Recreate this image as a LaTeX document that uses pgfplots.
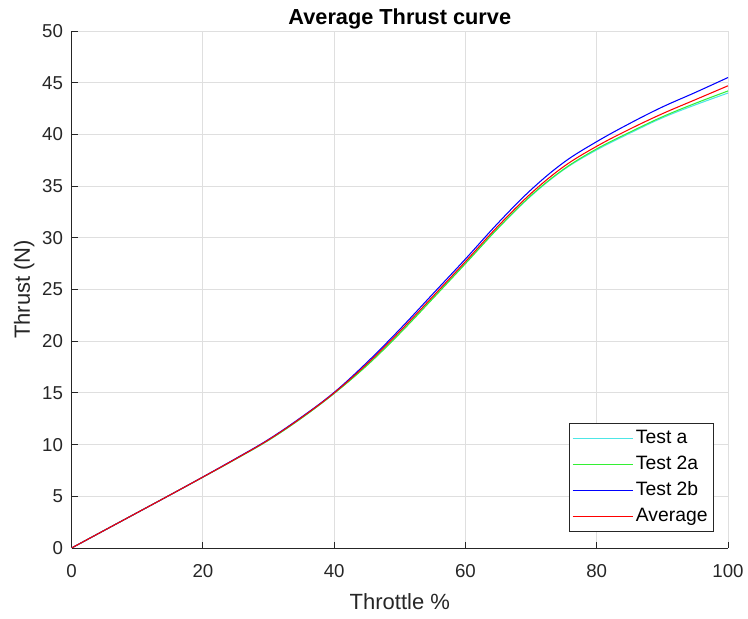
\documentclass[border=0pt]{standalone}
\usepackage{pgfplots}
\pgfplotsset{compat=1.18}
\usepackage{fontspec}
\setmainfont{Liberation Sans}
\definecolor{axc}{HTML}{262626}
\definecolor{gridc}{HTML}{DFDFDF}
\definecolor{ccyan}{HTML}{4DE6E6}
\definecolor{cgreen}{HTML}{33F033}
\pgfplotstableread{
x y
0 0
5 1.71
10 3.42
15 5.13
20 6.85
25 8.6
30 10.42
35 12.55
40 14.95
45 17.7
50 20.8
55 24.15
60 27.55
65 30.95
70 34.05
75 36.6
80 38.5
85 40.1
90 41.6
95 42.85
100 44.0
}\testa
\pgfplotstableread{
x y
0 0
5 1.71
10 3.42
15 5.13
20 6.85
25 8.6
30 10.42
35 12.55
40 14.95
45 17.65
50 20.75
55 24.1
60 27.5
65 30.95
70 34.1
75 36.65
80 38.6
85 40.2
90 41.7
95 43.0
100 44.2
}\testtwoa
\pgfplotstableread{
x y
0 0
5 1.71
10 3.42
15 5.13
20 6.87
25 8.65
30 10.5
35 12.65
40 15.05
45 17.95
50 21.15
55 24.55
60 27.95
65 31.45
70 34.65
75 37.3
80 39.3
85 41.05
90 42.65
95 44.05
100 45.5
}\testtwob
\pgfplotstableread{
x y
0 0
5 1.71
10 3.42
15 5.13
20 6.86
25 8.62
30 10.46
35 12.6
40 15.0
45 17.8
50 20.95
55 24.3
60 27.7
65 31.15
70 34.3
75 36.9
80 38.85
85 40.5
90 42.0
95 43.35
100 44.7
}\avg
\begin{document}
\begin{tikzpicture}
\begin{axis}[
  scale only axis,
  width=492.3pt, height=387.75pt,
  xmin=0, xmax=100, ymin=0, ymax=50,
  xtick={0,20,...,100}, ytick={0,5,...,50},
  axis lines=left,
  axis line style={-, draw=axc, line width=0.6pt},
  tick style={draw=axc, line width=0.6pt},
  tick align=inside,
  major tick length=4.5pt,
  grid=major,
  major grid style={draw=gridc, line width=0.6pt},
  tick label style={font=\fontsize{14}{16}\selectfont, text=axc},
  xticklabel style={yshift=-9pt},
  yticklabel style={xshift=-3pt},
  /pgf/number format/assume math mode=true,
  xlabel={Throttle \%}, ylabel={Thrust (N)},
  label style={font=\fontsize{16.5}{18}\selectfont, text=axc},
  xlabel style={at={([yshift=-40.2pt]axis description cs:0.5,0)}, anchor=center},
  ylabel style={at={([xshift=-35.5pt]axis description cs:0,0.5)}, anchor=center},
  title={\textbf{Average Thrust curve}},
  title style={font=\fontsize{16.3}{18}\selectfont, at={([yshift=3pt]axis description cs:0.5,1)}, anchor=center},
  legend style={at={(rel axis cs:0.9776,0.0304)}, anchor=south east,
    draw=axc, line width=0.6pt, font=\fontsize{14.5}{16}\selectfont,
    row sep=0.5pt, inner sep=2pt,
    nodes={text height=11pt, text depth=4pt, inner sep=2pt}},
  legend cell align=left,
  legend image code/.code={\draw[#1, line width=0.9pt] (0pt,0pt) -- (45pt,0pt);},
]
\addplot[color=ccyan, line width=0.8pt, smooth, tension=0.6] table {\testa};
\addlegendentry{Test a}
\addplot[color=cgreen, line width=0.8pt, smooth, tension=0.6] table {\testtwoa};
\addlegendentry{Test 2a}
\addplot[color=blue, line width=0.8pt, smooth, tension=0.6] table {\testtwob};
\addlegendentry{Test 2b}
\addplot[color=red, line width=0.8pt, smooth, tension=0.6] table {\avg};
\addlegendentry{Average}
\end{axis}
\pgfresetboundingbox
\path ([xshift=-53.7pt,yshift=-53.25pt]current axis.south west) rectangle ([xshift=15pt,yshift=23.25pt]current axis.north east);
\end{tikzpicture}
\end{document}
